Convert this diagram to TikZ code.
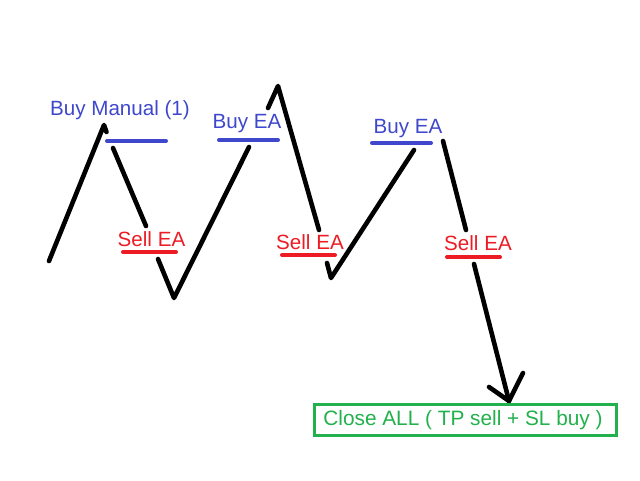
\documentclass[tikz,border=0pt]{standalone}
\usepackage{fontspec}
\setmainfont{Liberation Sans}
\definecolor{buyblue}{HTML}{3F48CC}
\definecolor{sellred}{HTML}{ED1C24}
\definecolor{closegreen}{HTML}{22B14C}
\tikzset{
  stroke/.style={draw=black,line width=4.6pt,line cap=round,line join=round},
  buybar/.style={draw=buyblue,line width=4pt,line cap=round},
  sellbar/.style={draw=sellred,line width=4pt,line cap=round},
  lbl/.style={inner sep=0pt,anchor=center,font=\fontsize{20.6}{24}\selectfont},
  buylbl/.style={lbl,text=buyblue},
  selllbl/.style={lbl,text=sellred},
  closebox/.style={draw=closegreen,line width=3pt,minimum width=302pt,minimum height=31pt}
}
\begin{document}
\begin{tikzpicture}[x=1pt,y=-1pt]
\useasboundingbox (0,0) rectangle (640,480);
\fill[white] (0,0) rectangle (640,480);
% price path points
\coordinate (p0) at (49,261);
\coordinate (p1) at (104,125);
\coordinate (p2) at (113,148);
\coordinate (p3) at (146,226);
\coordinate (p4) at (158,259);
\coordinate (p5) at (174,298);
\coordinate (p6) at (249,147);
\coordinate (p7) at (268,108);
\coordinate (p8) at (278,86);
\coordinate (p9) at (319,230);
\coordinate (p10) at (327,263);
\coordinate (p11) at (331,278);
\coordinate (p12) at (414,150);
\coordinate (p13) at (443,141);
\coordinate (p14) at (466,230);
\coordinate (p15) at (474,264);
\coordinate (tip) at (509,401);
\coordinate (hl) at (489,387);
\coordinate (hr) at (523,373);
\draw[stroke] (p0) -- (p1) -- ++(2.5,7);
\draw[stroke] (p2) -- (p3);
\draw[stroke] (p4) -- (p5) -- (p6);
\draw[stroke] (p7) -- (p8) -- (p9);
\draw[stroke] (p10) -- (p11) -- (p12);
\draw[stroke] (p13) -- (p14);
\draw[stroke] (p15) -- (tip);
\draw[stroke] (hl) -- (tip) -- (hr);
% bars
\coordinate (b1a) at (107,141); \coordinate (b1b) at (166,141);
\coordinate (b2a) at (219,140); \coordinate (b2b) at (278,140);
\coordinate (b3a) at (372,143); \coordinate (b3b) at (431,143);
\coordinate (s1a) at (123,252); \coordinate (s1b) at (176,252);
\coordinate (s2a) at (282,255); \coordinate (s2b) at (335,255);
\coordinate (s3a) at (447,257); \coordinate (s3b) at (500,257);
\draw[buybar] (b1a) -- (b1b);
\draw[buybar] (b2a) -- (b2b);
\draw[buybar] (b3a) -- (b3b);
\draw[sellbar] (s1a) -- (s1b);
\draw[sellbar] (s2a) -- (s2b);
\draw[sellbar] (s3a) -- (s3b);
% labels
\node[buylbl] (lb1) at (120,110) {Buy Manual (1)};
\node[buylbl] (lb2) at (247,124) {Buy EA};
\node[buylbl] (lb3) at (408,129) {Buy EA};
\node[selllbl] (ls1) at (151.5,239) {Sell EA};
\node[selllbl] (ls2) at (310,242) {Sell EA};
\node[selllbl] (ls3) at (478,243) {Sell EA};
\node[closebox] (close) at (465.5,420) {};
\node[lbl,text=closegreen,font=\fontsize{20.8}{24}\selectfont] (closetext) at (463,420) {Close ALL ( TP sell + SL buy )};
\end{tikzpicture}
\end{document}
